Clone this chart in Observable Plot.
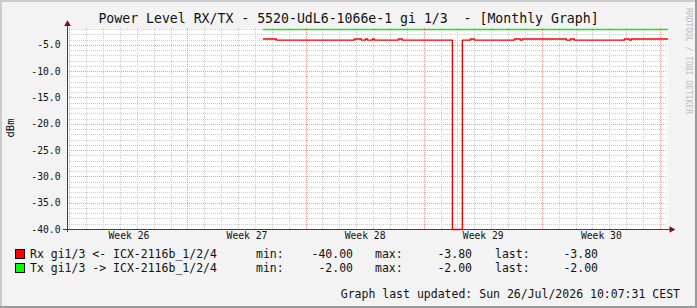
<!DOCTYPE html>
<html><head><meta charset="utf-8">
<script src="https://cdn.jsdelivr.net/npm/d3@7"></script>
<script src="https://cdn.jsdelivr.net/npm/@observablehq/plot@0.6"></script>
<style>
html,body{margin:0;padding:0;background:#f3f3f3;}
#chart{width:697px;height:308px;position:relative;overflow:hidden;}
svg{display:block}
</style></head><body><div id="chart"></div>
<script>
// ---- data ----
const rxTimes = ["2026-07-02T11:15","2026-07-03T05:45","2026-07-07T20:40","2026-07-08T06:40","2026-07-08T12:30","2026-07-08T15:20","2026-07-08T22:20","2026-07-09T01:10","2026-07-10T11:20","2026-07-10T17:00","2026-07-13T16:10","2026-07-14T06:20","2026-07-14T17:45","2026-07-14T23:30","2026-07-17T08:20","2026-07-17T16:50","2026-07-17T19:40","2026-07-20T10:20","2026-07-20T16:00","2026-07-20T21:40","2026-07-23T20:50","2026-07-24T03:50","2026-07-24T06:40","2026-07-26T10:07:31"];
const rxValues = [-3.8,-4.0,-3.8,-4.0,-3.8,-4.0,-3.8,-4.0,-3.8,-4.0,-40.0,-4.0,-3.8,-4.0,-3.8,-4.0,-3.8,-4.0,-3.8,-4.0,-3.8,-4.0,-3.8,-3.8];
const txTimes = ["2026-07-02T11:15","2026-07-26T10:07:31"];
const txValues = [-2.0,-2.0];
const startTime = "2026-06-20T20:40:00";
const endTime = "2026-07-26T10:07:31";
const weekStarts = ["2026-06-21T00:00","2026-06-28T00:00","2026-07-05T00:00","2026-07-12T00:00","2026-07-19T00:00","2026-07-26T00:00"];
const weekLabels = ["Week 26","Week 27","Week 28","Week 29","Week 30"];
const yMajor = [-5,-10,-15,-20,-25,-30,-35,-40];
const yTickLabels = ["-5.0","-10.0","-15.0","-20.0","-25.0","-30.0","-35.0","-40.0"];
const legendNames = ["Rx gi1/3 <- ICX-2116b_1/2/4","Tx gi1/3 -> ICX-2116b_1/2/4"];
const legendColors = ["#ff0000","#00ff00"];
const legendMin = ["-40.00","-2.00"];
const legendMax = ["-3.80","-2.00"];
const legendLast = ["-3.80","-2.00"];
const titleText = "Power Level RX/TX - 5520-UdL6-1066e-1 gi 1/3  - [Monthly Graph]";
const yLabel = "dBm";
const footerText = "Graph last updated: Sun 26/Jul/2026 10:07:31 CEST";
const watermark = "RRDTOOL / TOBI OETIKER";

// ---- build ----
const mono = "'DejaVu Sans Mono', monospace";
const parse = s => new Date(s);
const t0 = parse(startTime), t1 = parse(endTime);
const rx = rxTimes.map((t,i)=>({t:parse(t), v:rxValues[i]}));
const tx = txTimes.map((t,i)=>({t:parse(t), v:txValues[i]}));
const wk = weekStarts.map(parse);
const days = d3.timeDay.range(d3.timeDay.ceil(t0), t1).filter(d => !wk.some(w => +w === +d));
const yMinor = d3.range(-39, -1).filter(v => v % 5 !== 0);
const weekMid = weekLabels.map((l,i)=>({t:new Date(+wk[i] + 3.5*864e5), label:l}));
const pxDay = 600 / ((+t1 - +t0) / 864e5);
const xAxisLine = [{y:-40, x1:new Date(+t0 - 4/pxDay*864e5), x2:new Date(+t1 + 3/pxDay*864e5)}];
const yAxisLine = [{x:t0, y1:-40.6, y2:-1.3}];
const arrows = [
  {t:new Date(+t1 + 4/pxDay*864e5), v:-40, rot:90},
  {t:t0, v:-0.95, rot:0}
];
const yTicks = yMajor.map((v,i)=>({v, l:yTickLabels[i]}));
const crisp = {shapeRendering:"crispEdges"};

const chart = Plot.plot({
  width:697, height:308,
  marginLeft:67, marginRight:30, marginTop:28, marginBottom:79,
  style:{background:"transparent", fontFamily:mono, overflow:"visible"},
  x:{type:"time", domain:[t0,t1], axis:null},
  y:{domain:[-40,-1.8], axis:null},
  marks:[
    Plot.frame({fill:"#ffffff", stroke:null}),
    Plot.ruleX(days, {stroke:"#cdcdcd", strokeDasharray:"1,1", ...crisp}),
    Plot.ruleY(yMinor, {stroke:"#cdcdcd", strokeDasharray:"1,1", ...crisp}),
    Plot.ruleX(wk, {stroke:"#f29a9a", strokeDasharray:"1,1", ...crisp}),
    Plot.ruleY(yMajor.filter(v=>v>-40), {stroke:"#f29a9a", strokeDasharray:"1,1", ...crisp}),
    Plot.line(tx, {x:"t", y:"v", curve:"step-after", stroke:"#1ee01e", strokeWidth:1.5}),
    Plot.line(rx, {x:"t", y:"v", curve:"step-after", stroke:"#ff0000", strokeWidth:1.4}),
    Plot.ruleY(xAxisLine, {y:"y", x1:"x1", x2:"x2", stroke:"#404040", strokeWidth:1, ...crisp}),
    Plot.ruleX(yAxisLine, {x:"x", y1:"y1", y2:"y2", stroke:"#404040", strokeWidth:1, ...crisp}),
    Plot.dot(arrows, {x:"t", y:"v", rotate:"rot", symbol:"triangle2", r:3.2, fill:"#7f1010", stroke:null}),
    Plot.text(yTicks, {y:"v", text:"l", frameAnchor:"left", dx:-7, textAnchor:"end", fontSize:9.7, fill:"#111"}),
    Plot.text(weekMid, {x:"t", text:"label", frameAnchor:"bottom", dy:9, fontSize:9.7, fill:"#111"})
  ]
});
document.getElementById("chart").appendChild(chart);

const svg = d3.select(chart);
// title
svg.append("text").attr("x",348.5).attr("y",23).attr("text-anchor","middle")
  .attr("xml:space","preserve").style("white-space","pre")
  .style("font-family",mono).style("font-size","13.2px").attr("fill","#111").text(titleText);
// y label
svg.append("text").attr("transform","translate(14,128) rotate(-90)").attr("text-anchor","middle")
  .style("font-family",mono).style("font-size","10.5px").attr("fill","#111").text(yLabel);
// watermark
svg.append("text").attr("transform","translate(686,8) rotate(90)").attr("text-anchor","start")
  .style("font-family",mono).style("font-size","8px").attr("fill","#bdbdbd").text(watermark);
// legend
legendNames.forEach((name,i)=>{
  const base = 258 + 14*i;
  svg.append("rect").attr("x",15.5).attr("y",249.5+14*i).attr("width",9).attr("height",9)
    .attr("fill",legendColors[i]).attr("stroke","#000").attr("stroke-width",1);
  const t = (x, s, anchor) => svg.append("text").attr("x",x).attr("y",base).attr("text-anchor",anchor)
    .style("font-family",mono).style("font-size","11.5px").attr("fill","#111").text(s);
  t(30, name, "start");
  t(256, "min:", "start");
  t(353, legendMin[i], "end");
  t(375, "max:", "start");
  t(472, legendMax[i], "end");
  t(495, "last:", "start");
  t(598, legendLast[i], "end");
});
// footer
svg.append("text").attr("x",680).attr("y",298).attr("text-anchor","end")
  .style("font-family",mono).style("font-size","11.5px").attr("fill","#111").text(footerText);
// 3D frame
svg.append("rect").attr("x",0).attr("y",0).attr("width",697).attr("height",2).attr("fill","#cbcbcb");
svg.append("rect").attr("x",0).attr("y",0).attr("width",2).attr("height",308).attr("fill","#cbcbcb");
svg.append("rect").attr("x",0).attr("y",306).attr("width",697).attr("height",2).attr("fill","#9a9a9a");
svg.append("rect").attr("x",695).attr("y",0).attr("width",2).attr("height",308).attr("fill","#9a9a9a");
</script></body></html>
